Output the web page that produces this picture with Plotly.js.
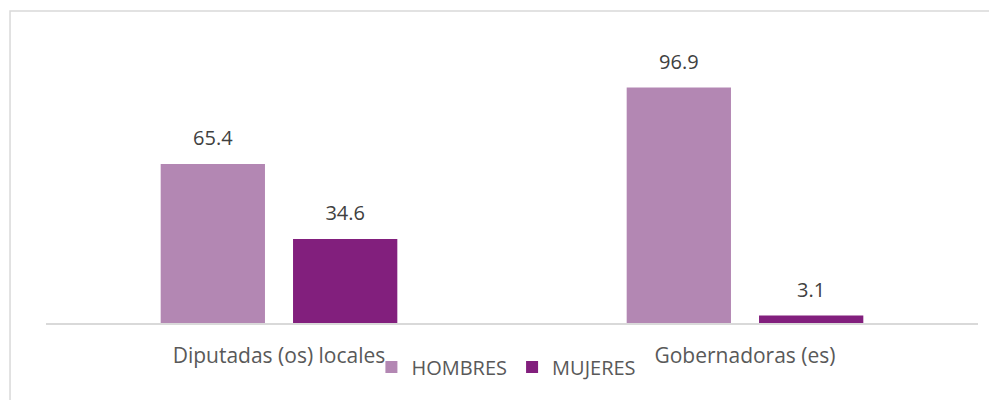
<!DOCTYPE html>
<html><head><meta charset="utf-8">
<script src="https://cdn.plot.ly/plotly-3.0.1.min.js"></script>
<style>html,body{margin:0;padding:0;background:#fff}#c{width:989px;height:400px}</style>
</head><body><div id="c"></div>
<script>
const categories = ["Diputadas (os) locales", "Gobernadoras (es)"];
const hombres = [65.4, 96.9];
const mujeres = [34.6, 3.1];
const seriesNames = ["HOMBRES", "MUJERES"];
const colors = ['#B387B3', '#821F7D'];

const font = "'Open Sans', 'Liberation Sans', sans-serif";
const seriesVals = [hombres, mujeres];
const traces = [];
seriesVals.forEach((vals, i) => {
  traces.push({type:'bar', name:seriesNames[i], x:categories, y:vals, marker:{color:colors[i]},
    hoverinfo:'none', offsetgroup:String(i)});
});
seriesVals.forEach((vals, i) => {
  traces.push({type:'scatter', mode:'markers+text', name:seriesNames[i], x:categories, y:vals,
    text:vals.map(v => v.toFixed(1)), textposition:'top center', showlegend:false,
    marker:{size:20, color:'rgba(0,0,0,0)'}, cliponaxis:false,
    textfont:{size:20, color:'#404040', family:font}, hoverinfo:'none', offsetgroup:String(i)});
});
const layout = {
  width:989, height:400,
  margin:{l:46, r:11, t:40, b:77, autoexpand:false},
  paper_bgcolor:'#fff', plot_bgcolor:'#fff',
  font:{family:font, color:'#595959', size:20},
  barmode:'group', bargap:0.432, bargroupgap:0.212,
  scattermode:'group', scattergap:0.432,
  xaxis:{showline:true, linecolor:'#D9D9D9', linewidth:1.5, ticks:'outside', ticklen:13, automargin:false,
         tickcolor:'rgba(0,0,0,0)', tickfont:{size:21,color:'#595959'}, fixedrange:true},
  yaxis:{range:[0,116.4], showgrid:false, zeroline:false, showticklabels:false, fixedrange:true, automargin:false},
  showlegend:true,
  legend:{orientation:'h', x:0.494, xanchor:'center', y:-0.087, yanchor:'top', bgcolor:'rgba(0,0,0,0)',
          font:{size:20,color:'#595959'}, itemwidth:30, traceorder:'normal'},
  shapes:[{type:'rect', xref:'paper', yref:'paper', x0:-0.0386, x1:1.05, y0:-0.5, y1:1.1025,
           line:{color:'#D9D9D9', width:1.5}, fillcolor:'rgba(0,0,0,0)'}]
};
Plotly.newPlot('c', traces, layout, {displayModeBar:false, staticPlot:true});
</script></body></html>
